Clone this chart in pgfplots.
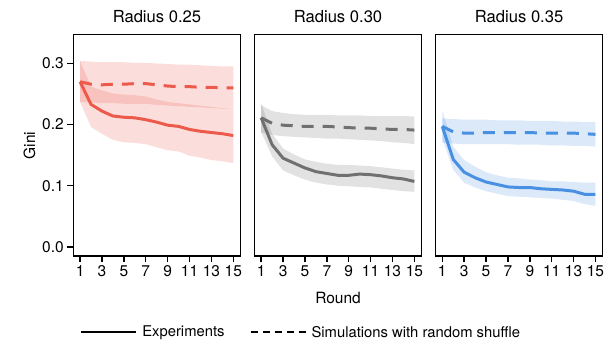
\documentclass[border=0pt]{standalone}
\usepackage{fontspec}
\setmainfont{TeX Gyre Heros}
\usepackage{pgfplots}
\usepackage{pgfplotstable}
\pgfplotsset{compat=1.18}
\usepgfplotslibrary{groupplots,fillbetween}
\definecolor{cred}{HTML}{EC5A4B}
\definecolor{cgray}{HTML}{707070}
\definecolor{cblue}{HTML}{4A90E2}

\pgfplotstableread{
x exp explo exphi sim simlo simhi
1 0.270 0.237 0.304 0.270 0.237 0.304
2 0.233 0.196 0.262 0.266 0.236 0.303
3 0.222 0.185 0.256 0.265 0.235 0.302
4 0.214 0.175 0.251 0.266 0.235 0.302
5 0.212 0.171 0.249 0.266 0.234 0.302
6 0.211 0.170 0.248 0.267 0.234 0.301
7 0.208 0.168 0.246 0.267 0.234 0.301
8 0.204 0.163 0.241 0.265 0.232 0.300
9 0.199 0.158 0.237 0.263 0.231 0.299
10 0.197 0.156 0.235 0.262 0.230 0.298
11 0.192 0.149 0.233 0.262 0.229 0.298
12 0.189 0.146 0.231 0.261 0.228 0.297
13 0.187 0.142 0.229 0.261 0.227 0.296
14 0.185 0.140 0.227 0.260 0.226 0.295
15 0.182 0.137 0.226 0.260 0.226 0.295
}\tabA

\pgfplotstableread{
x exp explo exphi sim simlo simhi
1 0.211 0.188 0.234 0.211 0.187 0.232
2 0.167 0.148 0.185 0.202 0.183 0.222
3 0.145 0.125 0.161 0.199 0.181 0.219
4 0.137 0.117 0.151 0.198 0.180 0.217
5 0.129 0.110 0.143 0.197 0.179 0.216
6 0.123 0.105 0.139 0.197 0.178 0.216
7 0.120 0.102 0.136 0.197 0.177 0.216
8 0.117 0.100 0.134 0.196 0.177 0.215
9 0.117 0.099 0.134 0.195 0.176 0.215
10 0.119 0.098 0.133 0.194 0.175 0.215
11 0.118 0.097 0.132 0.194 0.174 0.214
12 0.116 0.095 0.130 0.193 0.173 0.214
13 0.113 0.093 0.128 0.192 0.171 0.214
14 0.111 0.091 0.126 0.192 0.170 0.214
15 0.107 0.090 0.125 0.191 0.168 0.213
}\tabB

\pgfplotstableread{
x exp explo exphi sim simlo simhi
1 0.197 0.177 0.223 0.197 0.170 0.210
2 0.143 0.126 0.164 0.188 0.169 0.209
3 0.122 0.105 0.142 0.186 0.168 0.208
4 0.113 0.097 0.131 0.186 0.168 0.208
5 0.106 0.091 0.122 0.187 0.168 0.208
6 0.102 0.087 0.117 0.187 0.168 0.207
7 0.098 0.083 0.113 0.187 0.168 0.207
8 0.097 0.082 0.112 0.187 0.167 0.207
9 0.097 0.081 0.110 0.187 0.167 0.206
10 0.095 0.080 0.109 0.186 0.167 0.206
11 0.094 0.079 0.107 0.186 0.166 0.206
12 0.093 0.077 0.107 0.186 0.166 0.205
13 0.091 0.075 0.106 0.186 0.165 0.205
14 0.086 0.070 0.105 0.185 0.165 0.204
15 0.086 0.067 0.105 0.184 0.164 0.204
}\tabC

\newcommand{\panel}[2]{%
  \addplot[name path=elo, draw=none, forget plot] table[x=x, y=explo] {#1};
  \addplot[name path=ehi, draw=none, forget plot] table[x=x, y=exphi] {#1};
  \addplot[name path=slo, draw=none, forget plot] table[x=x, y=simlo] {#1};
  \addplot[name path=shi, draw=none, forget plot] table[x=x, y=simhi] {#1};
  \addplot[fill=#2, fill opacity=0.2, draw=none, forget plot] fill between[of=elo and ehi];
  \addplot[fill=#2, fill opacity=0.2, draw=none, forget plot] fill between[of=slo and shi];
  \addplot[#2, line width=3bp, forget plot] table[x=x, y=exp] {#1};
  \addplot[#2, line width=3bp, dash pattern=on 12bp off 9bp, forget plot] table[x=x, y=sim] {#1};
}

\begin{document}
\begin{tikzpicture}
\begin{groupplot}[
  group style={group size=3 by 1, horizontal sep=13.8bp, yticklabels at=edge left},
  scale only axis, width=167.3bp, height=221.3bp,
  xmin=0.38, xmax=15.67, ymin=-0.015, ymax=0.347,
  xtick={1,3,...,15}, ytick={0,0.1,0.2,0.3},
  /pgf/number format/assume math mode=true,
  yticklabel style={/pgf/number format/fixed, /pgf/number format/precision=1, /pgf/number format/fixed zerofill},
  tick label style={font=\fontsize{15.5bp}{18bp}\selectfont},
  label style={font=\fontsize{15.5bp}{18bp}\selectfont},
  xlabel style={yshift=-9bp},
  title style={font=\fontsize{16.6bp}{19bp}\selectfont, yshift=2bp},
  tick align=outside, xtick pos=bottom, ytick pos=left,
  major tick length=6bp,
  every tick/.style={black, line width=1.5bp},
  axis line style={line width=1.2bp},
  clip=true,
]
\nextgroupplot[title={Radius 0.25}, ylabel={Gini},
  legend style={at={(1.371,-0.345)}, anchor=center, draw=none, fill=none, legend columns=2,
    font=\fontsize{14.8bp}{17bp}\selectfont,
    /tikz/every even column/.append style={column sep=20bp},
    nodes={inner xsep=5bp}},
  legend image code/.code={\draw[#1] (0bp,0bp) -- (55bp,0bp);}]
\addlegendimage{black, line width=2bp}
\addlegendentry{Experiments}
\addlegendimage{black, line width=2bp, dash pattern=on 7bp off 5bp}
\addlegendentry{Simulations with random shuffle}
\panel{\tabA}{cred}
\nextgroupplot[title={Radius 0.30}, ytick=\empty, xlabel={Round}]
\panel{\tabB}{cgray}
\nextgroupplot[title={Radius 0.35}, ytick=\empty]
\panel{\tabC}{cblue}
\end{groupplot}
\pgfresetboundingbox
\path[use as bounding box] ([shift={(-73.3bp,-85bp)}]group c1r1.south west) rectangle ([shift={(530.7bp,256bp)}]group c1r1.south west);
\end{tikzpicture}
\end{document}
